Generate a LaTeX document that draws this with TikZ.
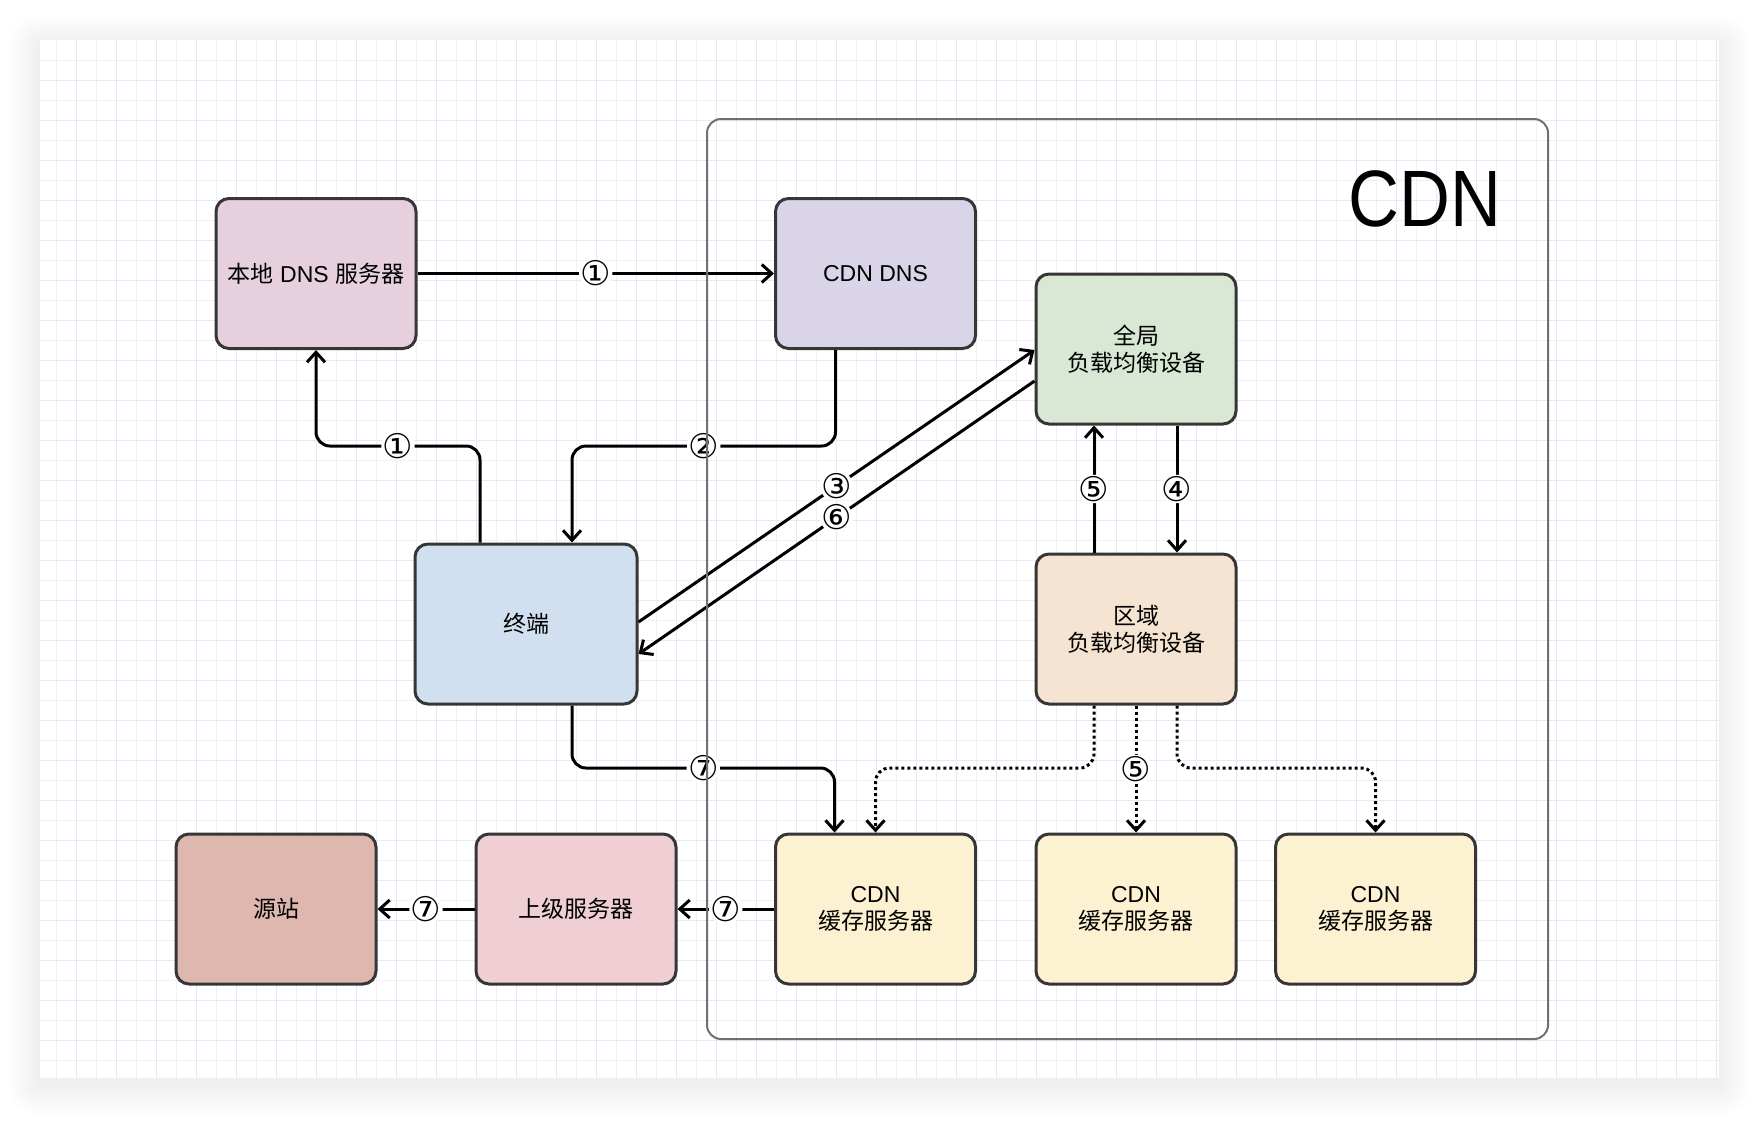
\documentclass[tikz,border=0pt]{standalone}
\usepackage{fontspec}
\setmainfont{Liberation Sans}
\newfontfamily\cjk{Noto Sans CJK SC}
\newfontfamily\symb{DejaVu Sans}
\usetikzlibrary{arrows.meta}

\definecolor{boxline}{HTML}{363636}
\definecolor{zoneline}{HTML}{707070}
\definecolor{gridminor}{HTML}{F1EFFC}
\definecolor{gridmajor}{HTML}{E9E6FA}
\definecolor{localfill}{HTML}{E6D0DE}
\definecolor{cdndnsfill}{HTML}{DAD4E8}
\definecolor{gslbfill}{HTML}{D8E8D5}
\definecolor{termfill}{HTML}{D0E0F0}
\definecolor{slbfill}{HTML}{F6E4D2}
\definecolor{originfill}{HTML}{DEB7AF}
\definecolor{parentfill}{HTML}{EFCED4}
\definecolor{cachefill}{HTML}{FCF1D0}

\newcommand\boxsize{\fontsize{23}{27}\selectfont}

\begin{document}
\begin{tikzpicture}[x=1pt, y=-1pt,
    box/.style={draw=boxline, line width=3pt, rounded corners=13pt,
      minimum width=200pt, minimum height=150pt, align=center, font=\boxsize},
    cjkbox/.style={box, font=\cjk\boxsize},
    arr/.style={line width=3pt, rounded corners=14pt,
      -{Straight Barb[length=10pt,width=18pt]}},
    dotarr/.style={arr, dash pattern=on 3pt off 3pt},
    num/.style={fill=white, inner sep=1.5pt, font=\symb\fontsize{34}{34}\selectfont}]
  \useasboundingbox (0,0) rectangle (1760,1120);

  % page and grid
  \fill[white] (0,0) rectangle (1760,1120);
  \foreach \i in {1,...,16}
    \fill[black, opacity=0.004, rounded corners=2*\i] (40-2*\i,46-2*\i) rectangle (1719+2*\i,1084+2*\i);
  \fill[white] (40,40) rectangle (1719,1078);
  \foreach \gx in {56.7,76.7,...,1716.7}
    \draw[gridminor, line width=1pt] (\gx,40) -- (\gx,1078);
  \foreach \gy in {60,80,...,1060}
    \draw[gridminor, line width=1pt] (40,\gy) -- (1719,\gy);
  \foreach \gx in {76.7,116.7,...,1716.7}
    \draw[gridmajor, line width=1pt] (\gx,40) -- (\gx,1078);
  \foreach \gy in {80,120,...,1060}
    \draw[gridmajor, line width=1pt] (40,\gy) -- (1719,\gy);

  % boxes
  \node[box, fill=localfill] (localdns) at (316,273.5) {{\cjk 本地} DNS {\cjk 服务器}};
  \node[box, fill=cdndnsfill] (cdndns) at (875.5,273.5) {CDN DNS};
  \node[cjkbox, fill=gslbfill] (gslb) at (1136,349) {全局\\负载均衡设备};
  \node[cjkbox, fill=termfill, minimum width=222pt, minimum height=160pt] (term) at (526,624) {终端};
  \node[cjkbox, fill=slbfill] (slb) at (1136,629) {区域\\负载均衡设备};
  \node[cjkbox, fill=originfill] (origin) at (276,909) {源站};
  \node[cjkbox, fill=parentfill] (parent) at (576,909) {上级服务器};
  \node[box, fill=cachefill] (cache1) at (875.5,909) {CDN\\{\cjk 缓存服务器}};
  \node[box, fill=cachefill] (cache2) at (1136,909) {CDN\\{\cjk 缓存服务器}};
  \node[box, fill=cachefill] (cache3) at (1375.5,909) {CDN\\{\cjk 缓存服务器}};

  % helper points
  \coordinate (row1) at (0,446);
  \coordinate (row2) at (0,768);
  \coordinate (tin) at ([xshift=46pt]term.north);
  \coordinate (cin) at ([xshift=-41pt]cache1.north);

  % DNS steps
  \draw[arr] (localdns) -- node[num]{①} (cdndns);
  \draw[arr] ([xshift=-46pt]term.north) |- node[num, pos=0.75]{①} (localdns.south |- row1) -- (localdns.south);
  \draw[arr] ([xshift=-40pt]cdndns.south) |- node[num, pos=0.75]{②} (tin |- row1) -- (tin);

  % load balancing
  \draw[arr] ([yshift=2pt]term.east) -- node[num]{③} ([yshift=-1pt]gslb.west);
  \draw[arr] ([yshift=-32pt]gslb.west) -- node[num]{⑥} ([yshift=-30pt]term.east);
  \draw[arr] ([xshift=41pt]gslb.south) -- node[num]{④} ([xshift=41pt]slb.north);
  \draw[arr] ([xshift=-42pt]slb.north) -- node[num]{⑤} ([xshift=-42pt]gslb.south);

  % fetching content
  \draw[arr] ([xshift=46pt]term.south) |- node[num, pos=0.75]{⑦} (cin |- row2) -- (cin);
  \draw[dotarr] ([xshift=-42pt]slb.south) |- (cache1.north |- row2) -- (cache1.north);
  \draw[dotarr] (slb.south) -- node[num]{⑤} (cache2.north);
  \draw[dotarr] ([xshift=41pt]slb.south) |- (cache3.north |- row2) -- (cache3.north);
  \draw[arr] (cache1) -- node[num]{⑦} (parent);
  \draw[arr] (parent) -- node[num]{⑦} (origin);

  % CDN zone
  \node[draw=zoneline, line width=2pt, rounded corners=14pt, minimum width=841pt, minimum height=920pt] (zone) at (1127.5,579) {};
  \node[font=\fontsize{80}{80}\selectfont] (zonelabel) at (1425,199) {\scalebox{0.88}[1]{CDN}};
\end{tikzpicture}
\end{document}
